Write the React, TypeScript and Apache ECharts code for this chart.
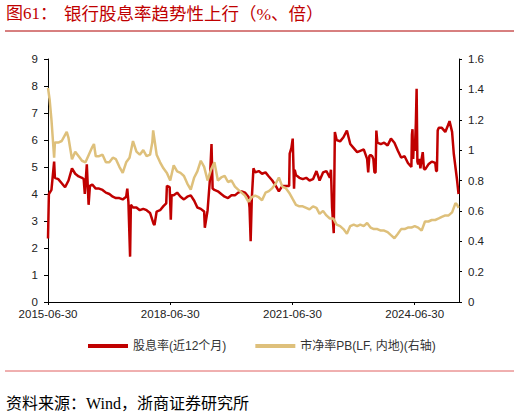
import React, { useEffect, useRef } from "react";
import * as echarts from "echarts";

const xTickLabels = ["2015-06-30", "2018-06-30", "2021-06-30", "2024-06-30"];
const xStart = "2015-06-30";
const xEnd = "2025-08-01";

const yieldName = "股息率(近12个月)";
const pbName = "市净率PB(LF, 内地)(右轴)";

const dividendYield: [string, number][] = [
  ["2015-06-30", 2.35], ["2015-07-08", 4.0], ["2015-07-31", 4.15], ["2015-08-24", 5.2], ["2015-08-31", 4.6],
  ["2015-09-30", 4.55], ["2015-10-31", 4.4], ["2015-11-30", 4.25], ["2015-12-31", 4.5], ["2016-01-31", 4.95],
  ["2016-02-29", 4.75], ["2016-03-31", 4.65], ["2016-04-30", 4.6], ["2016-05-15", 4.55], ["2016-05-25", 4.0],
  ["2016-06-12", 5.1], ["2016-06-28", 3.6], ["2016-07-10", 4.3], ["2016-07-31", 4.35], ["2016-08-31", 4.2],
  ["2016-09-30", 4.2], ["2016-10-31", 4.15], ["2016-11-30", 4.05], ["2016-12-31", 4.0], ["2017-01-31", 3.9],
  ["2017-02-28", 3.85], ["2017-03-31", 3.85], ["2017-04-30", 3.8], ["2017-05-31", 3.9], ["2017-06-10", 4.2],
  ["2017-06-20", 3.7], ["2017-07-05", 1.68], ["2017-07-12", 3.6], ["2017-07-31", 3.5], ["2017-08-31", 3.5],
  ["2017-09-30", 3.4], ["2017-10-31", 3.45], ["2017-11-30", 3.4], ["2017-12-31", 3.3], ["2018-01-31", 2.9],
  ["2018-02-09", 2.85], ["2018-02-28", 3.35], ["2018-03-31", 3.4], ["2018-04-30", 3.55], ["2018-05-25", 3.65],
  ["2018-05-31", 4.3], ["2018-06-25", 4.25], ["2018-07-05", 3.05], ["2018-07-12", 3.95], ["2018-07-31", 3.95],
  ["2018-08-31", 4.05], ["2018-09-30", 3.9], ["2018-10-31", 3.8], ["2018-11-30", 3.9], ["2018-12-31", 3.95],
  ["2019-01-31", 3.75], ["2019-02-28", 3.5], ["2019-03-31", 3.45], ["2019-04-30", 3.35], ["2019-05-06", 2.75],
  ["2019-05-31", 3.4], ["2019-06-20", 4.5], ["2019-07-05", 5.85], ["2019-07-15", 4.2], ["2019-07-31", 4.15],
  ["2019-08-31", 4.1], ["2019-09-30", 4.0], ["2019-10-31", 3.9], ["2019-11-30", 3.85], ["2019-12-31", 3.95],
  ["2020-01-31", 3.95], ["2020-02-29", 4.05], ["2020-03-31", 4.1], ["2020-04-30", 4.05], ["2020-05-31", 3.9],
  ["2020-06-10", 3.5], ["2020-06-20", 2.25], ["2020-06-30", 3.8], ["2020-07-15", 4.95], ["2020-07-31", 4.8],
  ["2020-08-31", 4.85], ["2020-09-30", 4.75], ["2020-10-31", 4.8], ["2020-11-30", 4.65], ["2020-12-31", 4.5],
  ["2021-01-31", 4.3], ["2021-02-28", 4.1], ["2021-03-31", 4.3], ["2021-04-30", 4.3], ["2021-05-31", 4.3],
  ["2021-06-05", 5.5], ["2021-06-20", 5.7], ["2021-07-02", 6.05], ["2021-07-08", 6.05], ["2021-07-14", 4.2],
  ["2021-07-20", 4.9], ["2021-07-31", 4.7], ["2021-08-31", 4.6], ["2021-09-30", 4.55], ["2021-10-31", 4.6],
  ["2021-11-30", 4.5], ["2021-12-31", 4.55], ["2022-01-31", 4.85], ["2022-02-28", 4.5], ["2022-03-31", 4.8],
  ["2022-04-30", 4.85], ["2022-05-31", 4.6], ["2022-06-10", 4.9], ["2022-06-20", 3.5], ["2022-07-05", 2.55],
  ["2022-07-15", 6.3], ["2022-07-31", 6.0], ["2022-08-31", 5.95], ["2022-09-30", 6.1], ["2022-10-31", 6.35],
  ["2022-11-30", 5.85], ["2022-12-31", 5.7], ["2023-01-31", 5.55], ["2023-02-28", 5.6], ["2023-03-31", 5.65],
  ["2023-04-30", 5.3], ["2023-05-10", 4.8], ["2023-05-20", 5.4], ["2023-05-31", 5.45], ["2023-06-15", 5.4],
  ["2023-06-25", 5.3], ["2023-07-05", 4.8], ["2023-07-15", 4.8], ["2023-07-22", 6.35], ["2023-07-31", 5.9],
  ["2023-08-31", 5.85], ["2023-09-30", 5.9], ["2023-10-31", 5.8], ["2023-11-30", 6.05], ["2023-12-31", 5.9],
  ["2024-01-31", 5.6], ["2024-02-29", 5.35], ["2024-03-31", 5.4], ["2024-04-30", 5.15], ["2024-05-31", 5.0],
  ["2024-06-05", 6.2], ["2024-06-10", 6.4], ["2024-06-16", 5.3], ["2024-06-22", 5.9], ["2024-07-01", 5.6],
  ["2024-07-10", 6.6], ["2024-07-17", 7.9], ["2024-07-24", 5.2], ["2024-07-31", 5.1], ["2024-08-10", 5.3],
  ["2024-08-20", 4.95], ["2024-08-31", 5.3], ["2024-09-10", 5.55], ["2024-09-20", 4.95], ["2024-09-30", 4.9],
  ["2024-10-31", 5.1], ["2024-11-30", 5.2], ["2024-12-31", 5.15], ["2025-01-08", 4.85], ["2025-01-15", 4.85],
  ["2025-01-22", 6.35], ["2025-01-31", 6.45], ["2025-02-28", 6.45], ["2025-03-31", 6.3], ["2025-04-30", 6.6],
  ["2025-05-08", 6.7], ["2025-05-31", 6.3], ["2025-06-15", 5.5], ["2025-06-30", 5.0], ["2025-07-15", 4.5],
  ["2025-07-28", 4.0],
];

const priceToBook: [string, number][] = [
  ["2015-06-30", 1.41], ["2015-07-15", 1.33], ["2015-07-31", 1.2], ["2015-08-24", 0.95], ["2015-08-31", 1.05],
  ["2015-09-30", 1.05], ["2015-10-31", 1.06], ["2015-11-30", 1.1], ["2015-12-15", 1.12], ["2015-12-31", 1.08],
  ["2016-01-31", 0.94], ["2016-02-29", 0.99], ["2016-03-31", 0.96], ["2016-04-30", 0.93], ["2016-05-31", 0.92],
  ["2016-06-30", 0.97], ["2016-07-31", 1.02], ["2016-08-15", 1.04], ["2016-08-31", 0.96], ["2016-09-30", 0.96],
  ["2016-10-31", 0.97], ["2016-11-30", 0.92], ["2016-12-31", 0.92], ["2017-01-31", 0.95], ["2017-02-28", 0.94],
  ["2017-03-31", 0.89], ["2017-04-30", 0.85], ["2017-05-31", 0.92], ["2017-06-30", 0.95], ["2017-07-31", 1.06],
  ["2017-08-31", 0.99], ["2017-09-30", 0.97], ["2017-10-31", 1.0], ["2017-11-30", 0.96], ["2017-12-31", 0.97],
  ["2018-01-20", 1.05], ["2018-01-28", 1.13], ["2018-02-28", 0.97], ["2018-03-31", 0.92], ["2018-04-30", 0.88],
  ["2018-05-31", 0.85], ["2018-06-30", 0.8], ["2018-07-31", 0.9], ["2018-08-31", 0.86], ["2018-09-30", 0.85],
  ["2018-10-31", 0.83], ["2018-11-30", 0.78], ["2018-12-31", 0.74], ["2019-01-31", 0.82], ["2019-02-28", 0.86],
  ["2019-03-31", 0.93], ["2019-04-30", 0.89], ["2019-05-31", 0.8], ["2019-06-30", 0.87], ["2019-07-31", 0.92],
  ["2019-08-31", 0.8], ["2019-09-30", 0.82], ["2019-10-31", 0.83], ["2019-11-30", 0.79], ["2019-12-31", 0.8],
  ["2020-01-31", 0.76], ["2020-02-29", 0.74], ["2020-03-31", 0.72], ["2020-04-30", 0.7], ["2020-05-31", 0.66],
  ["2020-06-30", 0.69], ["2020-07-31", 0.7], ["2020-08-31", 0.69], ["2020-09-30", 0.67], ["2020-10-31", 0.72],
  ["2020-11-30", 0.73], ["2020-12-31", 0.75], ["2021-01-31", 0.78], ["2021-02-28", 0.82], ["2021-03-31", 0.76],
  ["2021-04-30", 0.75], ["2021-05-31", 0.72], ["2021-06-30", 0.68], ["2021-07-31", 0.64], ["2021-08-31", 0.63],
  ["2021-09-30", 0.63], ["2021-10-31", 0.62], ["2021-11-30", 0.61], ["2021-12-31", 0.63], ["2022-01-31", 0.62],
  ["2022-02-28", 0.58], ["2022-03-31", 0.6], ["2022-04-30", 0.57], ["2022-05-31", 0.55], ["2022-06-30", 0.55],
  ["2022-07-31", 0.51], ["2022-08-31", 0.5], ["2022-09-30", 0.48], ["2022-10-31", 0.45], ["2022-11-30", 0.5],
  ["2022-12-31", 0.51], ["2023-01-31", 0.5], ["2023-02-28", 0.51], ["2023-03-31", 0.5], ["2023-04-30", 0.52],
  ["2023-05-31", 0.49], ["2023-06-30", 0.48], ["2023-07-31", 0.48], ["2023-08-31", 0.47], ["2023-09-30", 0.47],
  ["2023-10-31", 0.46], ["2023-11-30", 0.44], ["2023-12-31", 0.42], ["2024-01-31", 0.45], ["2024-02-29", 0.48],
  ["2024-03-31", 0.48], ["2024-04-30", 0.49], ["2024-05-31", 0.49], ["2024-06-30", 0.5], ["2024-07-31", 0.49],
  ["2024-08-31", 0.47], ["2024-09-30", 0.53], ["2024-10-31", 0.53], ["2024-11-30", 0.54], ["2024-12-31", 0.54],
  ["2025-01-31", 0.55], ["2025-02-28", 0.56], ["2025-03-31", 0.57], ["2025-04-30", 0.57], ["2025-05-31", 0.59],
  ["2025-06-30", 0.65], ["2025-07-15", 0.64], ["2025-07-28", 0.62],
];

const DAY = 86400000;
const toUTC = (s: string) => {
  const [y, m, d] = s.split("-").map(Number);
  return Date.UTC(y, m - 1, d);
};
const dayOffset = (s: string) => Math.round((toUTC(s) - toUTC(xStart)) / DAY);
const TICK_STEP = dayOffset(xTickLabels[1]); // 1096 days = 3 years

const serifCJK = "'Liberation Serif','Noto Sans CJK SC',serif";
const sansCJK = "'Liberation Sans',Arial,'Noto Sans CJK SC',sans-serif";

export default function App() {
  const ref = useRef<HTMLDivElement>(null);
  useEffect(() => {
    if (!ref.current) return;
    const chart = echarts.init(ref.current, undefined, { renderer: "svg" });
    const axisLabelStyle = { color: "#222", fontSize: 11.5, fontFamily: sansCJK };
    chart.setOption({
      animation: false,
      backgroundColor: "#fff",
      grid: { left: 48, right: 61, top: 59, bottom: 115, containLabel: false },
      legend: {
        left: 88,
        top: 340,
        padding: 0,
        itemWidth: 40,
        itemHeight: 4,
        itemGap: 29,
        icon: "rect",
        textStyle: { color: "#333", fontSize: 12, fontFamily: sansCJK },
        data: [yieldName, pbName],
      },
      xAxis: {
        type: "value",
        min: 0,
        max: dayOffset(xEnd),
        interval: TICK_STEP,
        splitLine: { show: false },
        axisLine: { lineStyle: { color: "#000", width: 1 } },
        axisTick: { show: true, length: 3, lineStyle: { color: "#000" } },
        axisLabel: {
          ...axisLabelStyle,
          margin: 6,
          showMaxLabel: false,
          formatter: (v: number) => {
            const i = Math.round(v / TICK_STEP);
            return Math.abs(v - i * TICK_STEP) < 1 && i < xTickLabels.length ? xTickLabels[i] : "";
          },
        },
      },
      yAxis: [
        {
          type: "value",
          min: 0,
          max: 9,
          interval: 1,
          splitLine: { show: false },
          axisLine: { show: true, lineStyle: { color: "#000", width: 1 } },
          axisTick: { show: true, length: 4, lineStyle: { color: "#000" } },
          axisLabel: { ...axisLabelStyle, margin: 10 },
        },
        {
          type: "value",
          min: 0,
          max: 1.6,
          interval: 0.2,
          position: "right",
          splitLine: { show: false },
          axisLine: { show: true, lineStyle: { color: "#000", width: 1 } },
          axisTick: { show: true, length: 3, lineStyle: { color: "#000" } },
          axisLabel: { ...axisLabelStyle, margin: 9 },
        },
      ],
      series: [
        {
          name: yieldName,
          type: "line",
          yAxisIndex: 0,
          showSymbol: false,
          symbol: "none",
          color: "#C00000",
          lineStyle: { color: "#C00000", width: 2.5 },
          data: dividendYield.map(([d, v]) => [dayOffset(d), v]),
        },
        {
          name: pbName,
          type: "line",
          yAxisIndex: 1,
          showSymbol: false,
          symbol: "none",
          color: "#DEC07B",
          lineStyle: { color: "#DEC07B", width: 2.5 },
          data: priceToBook.map(([d, v]) => [dayOffset(d), v]),
        },
      ],
      graphic: [
        {
          type: "text",
          left: 6,
          top: 5,
          style: { text: "图61：", fill: "#C00000", fontSize: 17, fontFamily: serifCJK },
        },
        {
          type: "text",
          left: 64,
          top: 5,
          style: { text: "银行股息率趋势性上行（%、倍）", fill: "#C00000", fontSize: 17.5, fontFamily: serifCJK },
        },
        {
          type: "line",
          shape: { x1: 5, y1: 31, x2: 514, y2: 31 },
          style: { stroke: "#B00000", lineWidth: 1 },
        },
        {
          type: "line",
          shape: { x1: 5, y1: 371, x2: 514, y2: 371 },
          style: { stroke: "#E06060", lineWidth: 1 },
        },
        {
          type: "text",
          left: 6,
          top: 395,
          style: { text: "资料来源：Wind，浙商证券研究所", fill: "#000", fontSize: 16, fontFamily: serifCJK },
        },
      ],
    });
    return () => chart.dispose();
  }, []);
  return (
    <div
      ref={ref}
      style={{ position: "fixed", left: 0, top: 0, width: 520, height: 417, background: "#fff" }}
    />
  );
}
